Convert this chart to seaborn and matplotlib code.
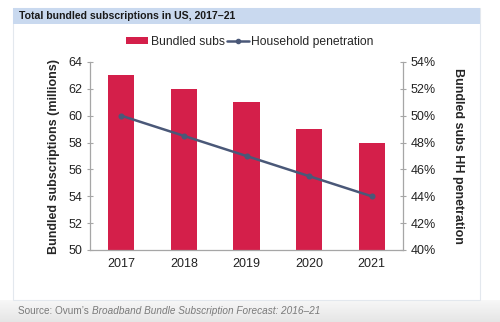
import numpy as np
import pandas as pd
import matplotlib
matplotlib.use("Agg")
import matplotlib.pyplot as plt
from matplotlib.patches import Rectangle
from matplotlib.lines import Line2D
from matplotlib.ticker import PercentFormatter
import seaborn as sns

years = ["2017", "2018", "2019", "2020", "2021"]
bundled_subs = [63, 62, 61, 59, 58]            # millions
hh_penetration = [50.0, 48.5, 47.0, 45.5, 44.0]  # percent

title = "Total bundled subscriptions in US, 2017\u201321"
left_label = "Bundled subscriptions (millions)"
right_label = "Bundled subs HH penetration"
bar_name = "Bundled subs"
line_name = "Household penetration"

BAR_COLOR = "#d41f4a"
LINE_COLOR = "#4a5878"
AXIS_COLOR = "#a6a6a6"

sns.set_theme(style="white")
plt.rcParams["font.family"] = ["Liberation Sans", "DejaVu Sans"]

df = pd.DataFrame({"year": years, "subs": bundled_subs, "pen": hh_penetration})

fig = plt.figure(figsize=(5.0, 3.22), dpi=100)
W, H = 500, 322

# background: white panel with a grey gradient strip below it
bg = fig.add_axes([0, 0, 1, 1], zorder=-10)
bg.set_xlim(0, W)
bg.set_ylim(H, 0)
bg.axis("off")
grad = np.linspace(0.97, 0.90, 64).reshape(-1, 1)
bg.imshow(np.dstack([grad, grad, grad]), extent=[0, W, H, 300], aspect="auto")
bg.add_patch(Rectangle((13, 8), 467, 292, facecolor="white", edgecolor="#e3e8ee", lw=0.8))
bg.add_patch(Rectangle((13, 8), 467, 16, facecolor="#c9d9ef", edgecolor="none"))
bg.text(19, 16, title, fontsize=7.6, fontweight="bold", va="center", ha="left", color="#1a1a1a")

src1 = bg.text(18, 311, "Source: Ovum\u2019s ", fontsize=7.2, color="#7a7a7a", va="center", ha="left")
fig.canvas.draw()
bb = src1.get_window_extent()
x_end = bb.x1  # pixels
bg.text(x_end, 311, "Broadband Bundle Subscription Forecast: 2016\u201321", fontsize=7.2,
        style="italic", color="#7a7a7a", va="center", ha="left")

# main plot
ax = fig.add_axes([90 / W, 1 - 250 / H, (403 - 90) / W, (250 - 62) / H])
sns.barplot(data=df, x="year", y="subs", color=BAR_COLOR, width=0.42,
            saturation=1, ax=ax, zorder=2, edgecolor="none")
ax.set_ylim(50, 64)
ax.set_yticks(np.arange(50, 65, 2))
ax.set_xlabel("")
ax.set_ylabel(left_label, fontsize=9, fontweight="bold", labelpad=6)
ax.tick_params(axis="y", direction="inout", length=5, width=0.8, colors=AXIS_COLOR,
               labelcolor="#222222", labelsize=9, pad=3)
ax.tick_params(axis="x", length=0, labelsize=9, labelcolor="#222222", pad=6)
for s in ["top", "right"]:
    ax.spines[s].set_visible(False)
for s in ["left", "bottom"]:
    ax.spines[s].set_color(AXIS_COLOR)
    ax.spines[s].set_linewidth(0.9)
ax.set_facecolor("none")

ax2 = ax.twinx()
sns.pointplot(data=df, x="year", y="pen", color=LINE_COLOR, markers="o",
              markersize=3, linewidth=1.8, ax=ax2)
ax2.set_ylim(40, 54)
ax2.set_yticks(np.arange(40, 55, 2))
ax2.yaxis.set_major_formatter(PercentFormatter(decimals=0))
ax2.set_ylabel(right_label, fontsize=9, fontweight="bold", rotation=270, labelpad=20)
ax2.tick_params(axis="y", direction="inout", length=5, width=0.8, colors=AXIS_COLOR,
                labelcolor="#222222", labelsize=9, pad=3)
for s in ["top", "left", "bottom"]:
    ax2.spines[s].set_visible(False)
ax2.spines["right"].set_color(AXIS_COLOR)
ax2.spines["right"].set_linewidth(0.9)
ax2.set_xlim(ax.get_xlim())

handles = [
    Rectangle((0, 0), 1, 1, facecolor=BAR_COLOR, edgecolor="none"),
    Line2D([0], [0], color=LINE_COLOR, lw=1.8, marker="o", markersize=3),
]
fig.legend(handles, [bar_name, line_name], loc="center", bbox_to_anchor=(0.5, 1 - 42 / H),
           ncol=2, frameon=False, fontsize=8.7, handlelength=1.8, handletextpad=0.2,
           columnspacing=0.2, handleheight=0.5)

fig.savefig("out.png", dpi=100)
